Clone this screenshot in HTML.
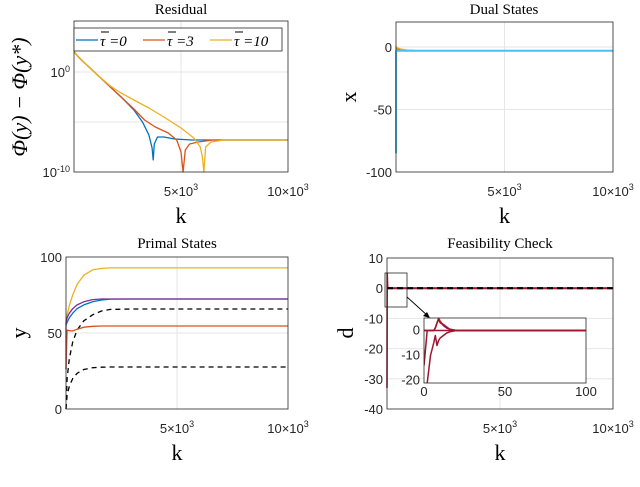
<!DOCTYPE html>
<html><head><meta charset="utf-8">
<style>
html,body{margin:0;padding:0;background:#fff;}
svg{display:block;}
.tk{font-family:"Liberation Sans",sans-serif;font-size:13px;fill:#262626;}
.ti{font-family:"Liberation Serif",serif;font-size:15px;fill:#000;}
.lb{font-family:"Liberation Serif",serif;font-size:22px;fill:#000;}
</style></head>
<body>
<svg id="c" width="640" height="487" viewBox="0 0 640 487" xmlns="http://www.w3.org/2000/svg"></svg>
<script>
// ---- data ----
const resTicks = [0, -10];
const resBlueK = [0,300,800,1200,1700,2200,2800,3200,3500,3650,3700,3750,3900,4200,4700,5500,7000,10000];
const resBlueV = [2,1.3,0.3,-0.5,-1.5,-2.5,-3.8,-5,-6.3,-7.6,-8.8,-7.2,-6.5,-6.5,-6.7,-6.8,-6.8,-6.8];
const resRedK = [0,300,800,1200,1700,2200,2800,3300,3800,4400,4800,5000,5100,5200,5400,5800,6500,10000];
const resRedV = [2,1.3,0.3,-0.5,-1.5,-2.5,-3.7,-4.8,-5.5,-6.1,-6.8,-8,-10,-7.8,-7.2,-7,-6.8,-6.8];
const resYelK = [0,300,800,1200,1700,2200,2800,3500,4200,5000,5600,5900,6000,6070,6150,6400,7000,10000];
const resYelV = [2,1.3,0.3,-0.5,-1.4,-2.1,-2.8,-3.6,-4.5,-5.6,-6.6,-7.5,-8.5,-10,-7.5,-7,-6.8,-6.8];
const dualK = [0,1,30,200,500,1000,10000];
const dualCyan = [-85,-3,-3,-3,-3,-3,-3];
const dualRed = [0,-1,-1.5,-2,-2.5,-3,-3];
const dualYel = [1,0,-0.5,-1.5,-2.5,-3,-3];
const primK = [0,50,150,300,500,800,1200,1600,2000,3000,10000];
const primYel = [57,62,68,75,82,88,91.5,92.5,92.8,92.8,92.8];
const primPur = [57,60,63,66,68.5,70.5,72,72.4,72.4,72.4,72.4];
const primBlu = [55,57,60,63,66,68.5,70.5,71.7,72.3,72.4,72.4];
const primRed = [26,52,51.5,51.3,52.5,53.8,54.4,54.6,54.6,54.6,54.6];
const primDa1 = [0,20,33,44,52,58,62,64.5,65.5,65.8,65.8];
const primDa2 = [0,9,15,20,23.5,26,27.2,27.5,27.6,27.6,27.6];
const feasK = [0,10,30,100,10000];
const feasRed = [-33,5,0,0,0];
const insetT = [0,2,4,6,7,8,9,10,12,14,16,20,25,100];
const insetA = [-14,0,0,0,0,0,0,0,0,0,0,0,0,0];
const insetB = [-50,-21,-10,-5,-2,-6,-4,-3,-2,-1,-0.5,0,0,0];
const insetY = [0,0,0,0,1,3,5,4,2,1,0.5,0,0,0];
const insetP = [0,0,0,0,1,3,4.5,3,2.5,1.5,0.5,0,0,0];
const insetR = [0,0,0,0,1,3,4.8,3.5,2,1,0.5,0,0,0];

const NS="http://www.w3.org/2000/svg";
const svg=document.getElementById('c');
function el(t,a,p){const e=document.createElementNS(NS,t);for(const k in a)e.setAttribute(k,a[k]);(p||svg).appendChild(e);return e;}
function txt(x,y,s,cls,anchor,p){const e=el('text',{x:x,y:y,class:cls,'text-anchor':anchor||'middle'},p);e.textContent=s;return e;}
function panel(name,L,R,T,B,x0,x1,y0,y1){
  const g=el('g',{});
  
  
  const sx=v=>L+(v-x0)/(x1-x0)*(R-L);
  const sy=v=>B-(v-y0)/(y1-y0)*(B-T);
  return {g,sx,sy,L,R,T,B};
}
function line(P,xs,ys,color,w,dash){
  const pts=xs.map((x,i)=>P.sx(x).toFixed(1)+','+P.sy(ys[i]).toFixed(1)).join(' ');
  return el('polyline',{points:pts,fill:'none',stroke:color,'stroke-width':w||1.3,'stroke-dasharray':dash||'none','stroke-linejoin':'round'},P.g);
}
function frame(P,xgrid,ygrid){
  el('rect',{x:P.L,y:P.T,width:P.R-P.L,height:P.B-P.T,fill:'#fff',stroke:'none'},P.g);
  xgrid.forEach(v=>el('line',{x1:P.sx(v),x2:P.sx(v),y1:P.T,y2:P.B,stroke:'#e6e6e6','stroke-width':1},P.g));
  ygrid.forEach(v=>el('line',{x1:P.L,x2:P.R,y1:P.sy(v),y2:P.sy(v),stroke:'#e6e6e6','stroke-width':1},P.g));
}
function box(P){el('rect',{x:P.L,y:P.T,width:P.R-P.L,height:P.B-P.T,fill:'none',stroke:'#262626','stroke-width':0.8},P.g);}
function kTicks(P){
  const a=txt(P.sx(5000),P.B+24,'5×10','tk','middle',P.g);
  const s1=el('tspan',{dy:-6,'font-size':'9px'},a);s1.textContent='3';
  const b=txt(P.sx(10000),P.B+24,'10×10','tk','middle',P.g);
  const s2=el('tspan',{dy:-6,'font-size':'9px'},b);s2.textContent='3';
  txt((P.L+P.R)/2,P.B+51,'k','lb','middle',P.g);
}

// ---- Residual ----
const P1=panel('residual-chart',74,288,21,172,0,10000,-10,5.1);
frame(P1,[5000],[0,-5]);
line(P1,resBlueK,resBlueV,'#0072BD');
line(P1,resRedK,resRedV,'#D95319');
line(P1,resYelK,resYelV,'#EDB120');
box(P1);
resTicks.forEach(v=>{const t=txt(P1.L-4,P1.sy(v)+5,'10','tk','end',P1.g);const s=el('tspan',{dy:-5,'font-size':'9px'},t);s.textContent=String(v);});
txt(181,14,'Residual','ti');
kTicks(P1);
const yl1=txt(0,0,'Φ(y) − Φ(y*)','lb','middle',P1.g);yl1.setAttribute('font-style','italic');yl1.setAttribute('font-size','24px');
yl1.setAttribute('transform','translate(27,97) rotate(-90)');
// legend
const lg=el('g',{},P1.g);


el('rect',{x:74,y:28,width:208,height:23,fill:'#fff',stroke:'#262626','stroke-width':0.8},lg);
[['#0072BD','τ =0',76],['#D95319','τ =3',143],['#EDB120','τ =10',210]].forEach(([c,s,x])=>{
  const it=el('g',{},lg);
  
  
  el('line',{x1:x,x2:x+22,y1:40,y2:40,stroke:c,'stroke-width':1.3},it);
  const t=txt(x+24,46,s,'ti','start',it);t.setAttribute('font-size','17px');t.setAttribute('font-style','italic');
  el('line',{x1:x+25,x2:x+33,y1:32,y2:32,stroke:'#000','stroke-width':1},it);
});

// ---- Dual ----
const P2=panel('dual-states-chart',396,613,22,172,0,10000,-100,20);
frame(P2,[5000],[0,-50]);
line(P2,dualK,dualRed,'#D95319');
line(P2,dualK,dualYel,'#EDB120');
line(P2,dualK,dualCyan,'#4DBEEE',2);
box(P2);
[0,-50,-100].forEach(v=>txt(P2.L-4,P2.sy(v)+5,String(v),'tk','end',P2.g));
txt(504,14,'Dual States','ti');
kTicks(P2);
const yl2=txt(0,0,'x','lb','middle',P2.g);yl2.setAttribute('transform','translate(356,97) rotate(-90)');

// ---- Primal ----
const P3=panel('primal-states-chart',66,288,257,409,0,10000,0,100);
frame(P3,[5000],[50]);
line(P3,primK,primYel,'#EDB120');
line(P3,primK,primBlu,'#0072BD');
line(P3,primK,primPur,'#7E2F8E');
line(P3,primK,primDa1,'#000',1.3,'5,4');
line(P3,primK,primRed,'#D95319');
line(P3,primK,primDa2,'#000',1.3,'5,4');
el('line',{x1:66,x2:66,y1:P3.sy(26),y2:P3.sy(57),stroke:'#c33a6a','stroke-width':1.3},P3.g);
box(P3);
[0,50,100].forEach(v=>txt(P3.L-4,P3.sy(v)+5,String(v),'tk','end',P3.g));
txt(177,248,'Primal States','ti');
kTicks(P3);
const yl3=txt(0,0,'y','lb','middle',P3.g);yl3.setAttribute('transform','translate(26,333) rotate(-90)');

// ---- Feasibility ----
const P4=panel('feasibility-chart',387,613,258,409,0,10000,-40,10);
frame(P4,[5000],[0,-10,-20,-30]);
line(P4,feasK,feasRed,'#A2142F',1.6);
el('line',{x1:387,x2:613,y1:P4.sy(0),y2:P4.sy(0),stroke:'#A2142F','stroke-width':2},P4.g);
el('line',{x1:387,x2:613,y1:P4.sy(0),y2:P4.sy(0),stroke:'#000','stroke-width':2.2,'stroke-dasharray':'6,4'},P4.g);
box(P4);
[10,0,-10,-20,-30,-40].forEach(v=>txt(P4.L-4,P4.sy(v)+5,String(v),'tk','end',P4.g));
txt(500,248,'Feasibility Check','ti');
kTicks(P4);
const yl4=txt(0,0,'d','lb','middle',P4.g);yl4.setAttribute('transform','translate(353,333) rotate(-90)');
el('rect',{x:385,y:273,width:22,height:34,fill:'none',stroke:'#262626','stroke-width':0.8},P4.g);
el('line',{x1:407,x2:428,y1:297,y2:316,stroke:'#000','stroke-width':0.9},P4.g);
el('polygon',{points:'430,318 423,316 427,312',fill:'#000'},P4.g);
// inset
const P5=panel('feasibility-inset',424,586,318,383,0,100,-21,5);
el('rect',{x:424,y:318,width:162,height:65,fill:'#fff'},P5.g);
const clip=el('clipPath',{id:'ic'},P5.g);el('rect',{x:424,y:318,width:162,height:65},clip);
const cg=el('g',{'clip-path':'url(#ic)'},P5.g);
const P5c=Object.assign({},P5,{g:cg});
line(P5c,insetT,insetY,'#EDB120',1.5);
line(P5c,insetT,insetP,'#7E2F8E',1.5);
line(P5c,insetT,insetA,'#A2142F',1.5);
line(P5c,insetT,insetB,'#A2142F',1.5);
line(P5c,insetT,insetR,'#A2142F',1.5);
box(P5);
[0,-10,-20].forEach(v=>{const t=txt(P5.L-4,P5.sy(v)+4,String(v),'tk','end',P5.g);t.setAttribute('font-size','11px');});
[0,50,100].forEach(v=>{const t=txt(P5.sx(v),P5.B+13,String(v),'tk','middle',P5.g);t.setAttribute('font-size','11px');});
</script>
</body></html>
